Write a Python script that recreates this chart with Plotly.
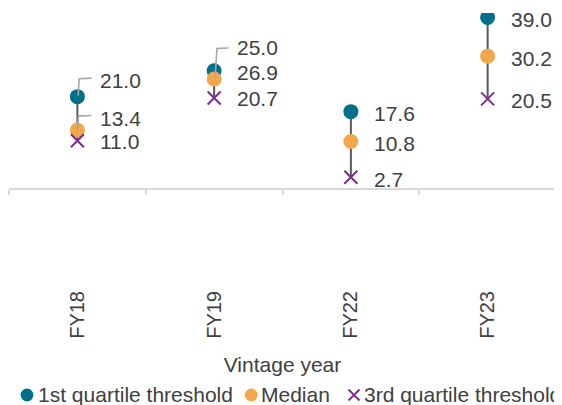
import plotly.graph_objects as go

# ---------------- data ----------------
categories = ["FY18", "FY19", "FY22", "FY23"]
q1_values = [21.0, 26.9, 17.6, 39.0]        # 1st quartile threshold
median_values = [13.4, 25.0, 10.8, 30.2]    # Median
q3_values = [11.0, 20.7, 2.7, 20.5]         # 3rd quartile threshold
series_names = ["1st quartile threshold", "Median", "3rd quartile threshold"]
x_title = "Vintage year"

# ---------------- styles ----------------
TEAL = "#00708A"
ORANGE = "#F2A84A"
PURPLE = "#7B2C8C"
TEXT = "#404040"
AXIS = "#D9D9D9"
CONNECT = "#595959"
LEADER = "#A6A6A6"
FONT = "Liberation Sans, Arial, sans-serif"

# page body has an 8px margin, so the figure sits at (8, 8) in the window
W, H = 554, 397
L, R, T, B = 1, 6, 5, 119
Y_RANGE = [-22, 40]
PW = W - L - R
PH = H - T - B


def px_to_paper_x(px):
    return (px - L) / PW


def px_to_paper_y(py):
    return (H - B - py) / PH


# label vertical offsets (px, positive = up), keyed by (series index, category)
DEFAULT_SHIFT = -2
label_shift = {
    (0, "FY18"): 16.5, (1, "FY18"): 11.7, (2, "FY18"): -1,
    (0, "FY19"): -1.5, (1, "FY19"): 31.5, (2, "FY19"): -1,
}
# leader lines (pixel path relative to the labelled point)
leaders = {
    (0, "FY18"): "M 0.8,1 L 1.8,18 L 14,18.5",
    (1, "FY18"): "M 0,1 L 1,14 L 14,14.7",
    (1, "FY19"): "M 1,1.5 L 2.8,30.6 L 14.4,31",
}

fig = go.Figure()

# vertical connectors (3rd quartile -> 1st quartile)
cx, cy = [], []
for c, lo, hi in zip(categories, q3_values, q1_values):
    cx += [c, c, None]
    cy += [lo, hi, None]
fig.add_trace(go.Scatter(x=cx, y=cy, mode="lines",
                         line=dict(color=CONNECT, width=2),
                         showlegend=False, hoverinfo="skip"))

all_series = [q1_values, median_values, q3_values]
markers = [
    dict(symbol="circle", size=15, color=TEAL),
    dict(symbol="circle", size=15, color=ORANGE),
    dict(symbol="x-thin", size=13, color=PURPLE, line=dict(color=PURPLE, width=2)),
]
for name, vals, mk in zip(series_names, all_series, markers):
    fig.add_trace(go.Scatter(x=categories, y=vals, mode="markers", name=name,
                             marker=mk, showlegend=False))

# empty trace so the zero-line category axis (x2) is drawn
fig.add_trace(go.Scatter(x=[None], y=[None], xaxis="x2", yaxis="y",
                         mode="markers", showlegend=False, hoverinfo="skip"))

# data labels
for si, vals in enumerate(all_series):
    for ci, (c, v) in enumerate(zip(categories, vals)):
        fig.add_annotation(x=c, y=v, xref="x", yref="y", text=f"{v:.1f}",
                           showarrow=False, xanchor="left", yanchor="middle",
                           xshift=21, yshift=label_shift.get((si, c), DEFAULT_SHIFT),
                           font=dict(family=FONT, size=21, color=TEXT))
        if (si, c) in leaders:
            fig.add_shape(type="path", xref="x", yref="y",
                          xsizemode="pixel", ysizemode="pixel",
                          xanchor=ci, yanchor=v, path=leaders[(si, c)],
                          line=dict(color=LEADER, width=1.6), layer="above")

# legend: symbol centre x and text left x (figure px), shared row y
legend_symbol_x = [19, 243.3, 346]
legend_text_x = [28, 250.5, 353.5]
legend_symbol_y = 387
legend_text_y = 386
legend_colors = [TEAL, ORANGE, PURPLE]
for i, name in enumerate(series_names):
    xa = px_to_paper_x(legend_symbol_x[i])
    ya = px_to_paper_y(legend_symbol_y)
    if i < 2:
        fig.add_shape(type="circle", xref="paper", yref="paper",
                      xsizemode="pixel", ysizemode="pixel", xanchor=xa, yanchor=ya,
                      x0=-6.4, x1=6.4, y0=-6.4, y1=6.4,
                      fillcolor=legend_colors[i], line=dict(width=0))
    else:
        fig.add_shape(type="path", xref="paper", yref="paper",
                      xsizemode="pixel", ysizemode="pixel", xanchor=xa, yanchor=ya,
                      path="M -5.5,-5.5 L 5.5,5.5 M -5.5,5.5 L 5.5,-5.5",
                      line=dict(color=legend_colors[i], width=1.8))
    fig.add_annotation(x=px_to_paper_x(legend_text_x[i]), y=px_to_paper_y(legend_text_y),
                       xref="paper", yref="paper", text=name, showarrow=False,
                       xanchor="left", yanchor="middle",
                       font=dict(family=FONT, size=21, color=TEXT))

zero_pos = (0 - Y_RANGE[0]) / (Y_RANGE[1] - Y_RANGE[0])
n = len(categories)

fig.update_layout(
    width=W, height=H,
    margin=dict(l=L, r=R, t=T, b=B, pad=0),
    paper_bgcolor="white", plot_bgcolor="white",
    showlegend=False,
    font=dict(family=FONT, color=TEXT),
    xaxis=dict(type="category", categoryorder="array", categoryarray=categories,
               range=[-0.5, n - 0.5], showline=False, showgrid=False, zeroline=False,
               ticks="", tickangle=-90,
               tickfont=dict(family=FONT, size=20, color=TEXT),
               title=dict(text=x_title, font=dict(family=FONT, size=21, color=TEXT),
                          standoff=19)),
    xaxis2=dict(overlaying="x", anchor="free", position=zero_pos, side="bottom",
                range=[-0.5, n - 0.5], tickmode="array",
                tickvals=[i - 0.5 for i in range(n + 1)],
                showticklabels=False, ticks="outside", ticklen=5, tickwidth=1.5,
                tickcolor=AXIS, showline=True, linecolor=AXIS, linewidth=1.5,
                showgrid=False, zeroline=False),
    yaxis=dict(range=Y_RANGE, visible=False, showgrid=False, zeroline=False),
)

fig.write_html("out.html")
